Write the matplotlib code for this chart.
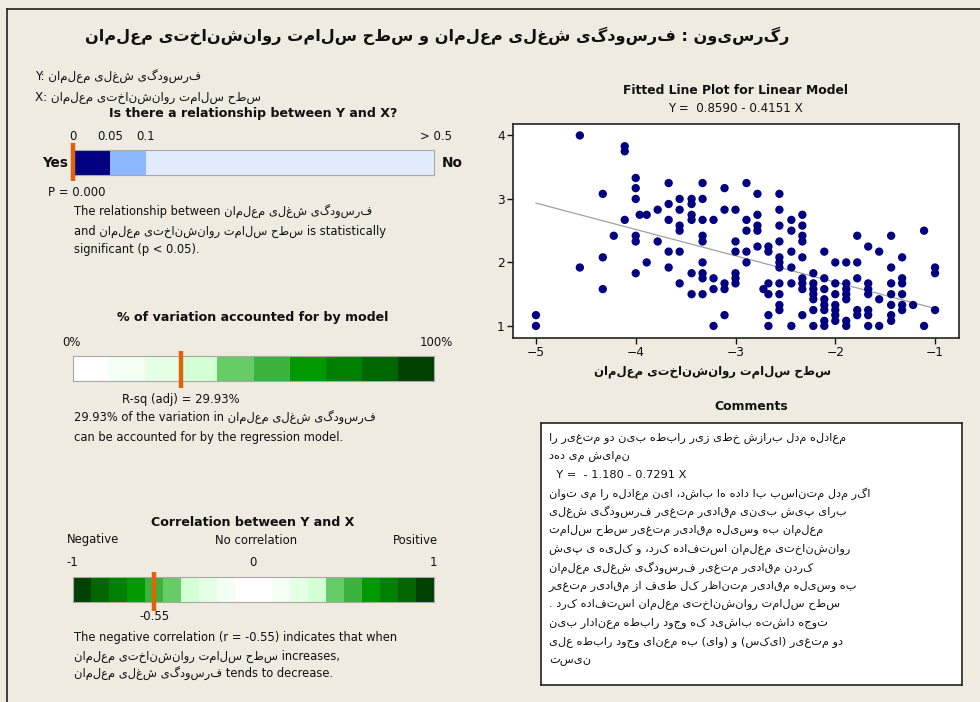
import matplotlib
matplotlib.use("Agg")
import matplotlib.pyplot as plt
from matplotlib.patches import Rectangle
from matplotlib.lines import Line2D

plt.rcParams['font.family'] = ['DejaVu Sans']

# ---------------- data ----------------
y_name = "فرسودگی شغلی معلمان"
x_name = "سطح سلامت روانشناختی معلمان"
title_fa = "رگرسیون : فرسودگی شغلی معلمان و سطح سلامت روانشناختی معلمان"

p_value = 0.000
p_tick_labels = ["0", "0.05", "0.1", "> 0.5"]
rsq_adj = 29.93
corr_r = -0.55
intercept = 0.8590
slope = -0.4151

x_cols = [-5.00, -4.56, -4.33, -4.22, -4.11, -4.00, -3.96, -3.89, -3.78, -3.67,
          -3.56, -3.44, -3.33, -3.22, -3.11, -3.00, -2.89, -2.78, -2.72, -2.67,
          -2.56, -2.44, -2.33, -2.22, -2.11, -2.00, -1.89, -1.78, -1.67, -1.56,
          -1.44, -1.33, -1.22, -1.11, -1.00]
y_by_col = [
    [1.17, 1.00],
    [4.00, 1.92],
    [3.08, 2.08, 1.58],
    [2.42],
    [3.83, 3.75, 2.67],
    [3.33, 3.17, 3.00, 2.42, 2.33, 1.83],
    [2.75],
    [2.75, 2.00],
    [2.83, 2.33],
    [3.25, 2.92, 2.67, 2.17, 1.92],
    [3.00, 2.83, 2.58, 2.50, 2.17, 1.67],
    [3.00, 2.92, 2.75, 2.67, 1.83, 1.50],
    [3.25, 3.00, 2.67, 2.42, 2.33, 2.00, 1.83, 1.75, 1.50],
    [2.67, 1.75, 1.58, 1.00],
    [3.17, 2.83, 1.67, 1.58, 1.17],
    [2.83, 2.33, 2.17, 1.83, 1.75, 1.67],
    [3.25, 2.67, 2.50, 2.17, 2.00],
    [3.08, 2.75, 2.58, 2.50, 2.25],
    [1.58],
    [2.25, 2.17, 1.67, 1.50, 1.17, 1.00],
    [3.08, 2.83, 2.58, 2.33, 2.08, 2.00, 1.92, 1.67, 1.50, 1.33, 1.25],
    [2.67, 2.50, 2.17, 1.92, 1.67, 1.00],
    [2.75, 2.58, 2.42, 2.33, 2.08, 1.75, 1.67, 1.58, 1.17],
    [1.83, 1.67, 1.58, 1.50, 1.42, 1.25, 1.00],
    [2.17, 1.75, 1.58, 1.42, 1.33, 1.25, 1.08, 1.00],
    [2.00, 1.67, 1.50, 1.33, 1.25, 1.17, 1.08],
    [2.00, 1.67, 1.58, 1.50, 1.42, 1.08, 1.00],
    [2.42, 2.00, 1.75, 1.25, 1.17],
    [2.25, 1.67, 1.58, 1.50, 1.25, 1.17, 1.00],
    [2.17, 1.42, 1.00],
    [2.42, 1.92, 1.67, 1.50, 1.33, 1.17, 1.08],
    [2.08, 1.75, 1.67, 1.50, 1.33, 1.25],
    [1.33],
    [2.50, 1.00],
    [1.92, 1.83, 1.25],
]

comment_lines = [
    ("fa", "معادله مدل برازش خطی زیر رابطه بین دو متغیر را"),
    ("fa", "نمایش می دهد"),
    ("en", "  Y =  - 1.180 - 0.7291 X"),
    ("fa", "اگر مدل متناسب با داده ها باشد، این معادله را می توان"),
    ("fa", "برای پیش بینی مقادیر متغیر فرسودگی شغلی"),
    ("fa", "معلمان به وسیله مقادیر متغیر سطح سلامت"),
    ("fa", "روانشناختی معلمان استفاده کرد، و کلیه ی پیش"),
    ("fa", "کردن مقادیر متغیر فرسودگی شغلی معلمان"),
    ("fa", "به وسیله مقادیر متناظر کل طیف از مقادیر متغیر"),
    ("fa", "سطح سلامت روانشناختی معلمان استفاده کرد ."),
    ("fa", "توجه داشته باشید که وجود رابطه معنادار بین"),
    ("fa", "دو متغیر (ایکس) و (وای) به معنای وجود رابطه علی"),
    ("fa", "نیست"),
]

rsq_colors = ["#ffffff", "#f3fff3", "#e4ffe4", "#d4ffd4", "#66cc66",
              "#3cb33c", "#009900", "#008000", "#006600", "#004000"]


def rtl(s):
    swap = {'(': ')', ')': '('}
    return ''.join(swap.get(c, c) for c in reversed(s))


# ---------------- figure ----------------
W, H = 980, 702
BG = "#efebe1"
ORANGE = "#e0620c"
fig = plt.figure(figsize=(W / 100, H / 100), dpi=100, facecolor=BG)


def fx(x):
    return x / W


def fy(y):
    return 1 - y / H


def T(x, y, s, **kw):
    kw.setdefault("va", "center")
    kw.setdefault("fontsize", 8.2)
    kw.setdefault("color", "#111111")
    fig.text(fx(x), fy(y), s, **kw)


def add_ax(x0, y0, x1, y1):
    return fig.add_axes([fx(x0), fy(y1), (x1 - x0) / W, (y1 - y0) / H])


# frame lines (top/left)
fig.add_artist(Line2D([fx(7), fx(7)], [fy(9), 0], color="#222222", lw=1.2))
fig.add_artist(Line2D([fx(7), 1], [fy(9), fy(9)], color="#222222", lw=1.2))

# title
T(437, 36, rtl(title_fa), ha="center", fontsize=11.6, fontweight="bold")

# Y / X names
T(35, 77, "Y: " + rtl(y_name), fontsize=8.6)
T(35, 97, "X: " + rtl(x_name), fontsize=8.6)

# ---------------- p-value bar ----------------
T(253, 113, "Is there a relationship between Y and X?", ha="center",
  fontsize=9.1, fontweight="bold")
p_pos = [0.0, 0.1025, 0.2022, 1.0]
p_colors = ["#000080", "#8cb8ff", "#e2ebfb"]
for lab, pos in zip(p_tick_labels, p_pos):
    if lab.startswith(">"):
        T(73 + pos * 361 + 18, 136, lab, ha="right", fontsize=8.4)
    else:
        T(73 + pos * 361, 136, lab, ha="center", fontsize=8.4)
axp = add_ax(73, 150, 434, 175)
for i, c in enumerate(p_colors):
    axp.add_patch(Rectangle((p_pos[i], 0), p_pos[i + 1] - p_pos[i], 1,
                            facecolor=c, edgecolor="none"))
axp.set_xlim(0, 1)
axp.set_ylim(0, 1)
axp.set_xticks([])
axp.set_yticks([])
for sp in axp.spines.values():
    sp.set_color("#a8a8a8")
axp.plot([p_value, p_value], [-0.25, 1.28], color=ORANGE, lw=3.2,
         clip_on=False, solid_capstyle="butt", zorder=5)
T(68, 163, "Yes", ha="right", fontsize=9.8, fontweight="bold")
T(442, 163, "No", ha="left", fontsize=9.8, fontweight="bold")
T(48, 192, "P = %.3f" % p_value, fontsize=8.4)
T(74, 212, "The relationship between " + rtl(y_name), fontsize=8.3)
T(74, 231, "and " + rtl(x_name) + " is statistically", fontsize=8.3)
T(74, 249, "significant (p < 0.05).", fontsize=8.3)

# ---------------- R-sq bar ----------------
T(253, 317, "% of variation accounted for by model", ha="center",
  fontsize=9.1, fontweight="bold")
T(62, 342, "0%", ha="left", fontsize=8.4)
T(453, 342, "100%", ha="right", fontsize=8.4)
axr = add_ax(73, 356, 434, 381)
for i, c in enumerate(rsq_colors):
    axr.add_patch(Rectangle((i * 10, 0), 10, 1, facecolor=c, edgecolor="none"))
axr.set_xlim(0, 100)
axr.set_ylim(0, 1)
axr.set_xticks([])
axr.set_yticks([])
for sp in axr.spines.values():
    sp.set_color("#a8a8a8")
axr.plot([rsq_adj, rsq_adj], [-0.3, 1.2], color=ORANGE, lw=3.2,
         clip_on=False, solid_capstyle="butt", zorder=5)
T(73 + rsq_adj / 100 * 361, 399, "R-sq (adj) = %.2f%%" % rsq_adj, ha="center",
  fontsize=8.4)
T(74, 418, "%.2f%% of the variation in " % rsq_adj + rtl(y_name), fontsize=8.3)
T(74, 437, "can be accounted for by the regression model.", fontsize=8.3)

# ---------------- correlation bar ----------------
T(253, 522, "Correlation between Y and X", ha="center",
  fontsize=9.1, fontweight="bold")
T(67, 540, "Negative", ha="left", fontsize=8.4)
T(256, 540, "No correlation", ha="center", fontsize=8.4)
T(438, 540, "Positive", ha="right", fontsize=8.4)
T(72, 563, "-1", ha="center", fontsize=8.4)
T(253, 563, "0", ha="center", fontsize=8.4)
T(433, 563, "1", ha="center", fontsize=8.4)
axc = add_ax(73, 577, 434, 602)
corr_colors = rsq_colors[::-1] + rsq_colors
for i, c in enumerate(corr_colors):
    axc.add_patch(Rectangle((-1 + i * 0.1, 0), 0.1, 1, facecolor=c, edgecolor="none"))
axc.set_xlim(-1, 1)
axc.set_ylim(0, 1)
axc.set_xticks([])
axc.set_yticks([])
for sp in axc.spines.values():
    sp.set_color("#a8a8a8")
axc.plot([corr_r, corr_r], [-0.35, 1.2], color=ORANGE, lw=3.2,
         clip_on=False, solid_capstyle="butt", zorder=5)
T(73 + (corr_r + 1) / 2 * 361, 617, "%.2f" % corr_r, ha="center", fontsize=8.4)
T(74, 637, "The negative correlation (r = %.2f) indicates that when" % corr_r,
  fontsize=8.3)
T(74, 656, rtl(x_name) + " increases,", fontsize=8.3)
T(74, 674, rtl(y_name) + " tends to decrease.", fontsize=8.3)

# ---------------- scatter ----------------
T(735, 90, "Fitted Line Plot for Linear Model", ha="center",
  fontsize=8.9, fontweight="bold")
T(735, 108, "Y =  %.4f - %.4f X" % (intercept, -slope), ha="center", fontsize=8.6)
axs = add_ax(513, 124, 959, 338)
axs.set_facecolor("white")
xs, ys = [], []
for xv, col in zip(x_cols, y_by_col):
    for yv in col:
        xs.append(xv)
        ys.append(yv)
axs.scatter(xs, ys, s=36, color="#000080", edgecolors="none", zorder=3)
xl = [min(x_cols), max(x_cols)]
axs.plot(xl, [intercept + slope * v for v in xl], color="#a0a0a0", lw=0.9, zorder=2)
axs.set_xlim(-5.23, -0.76)
axs.set_ylim(0.81, 4.18)
axs.set_xticks([-5, -4, -3, -2, -1])
axs.set_yticks([1, 2, 3, 4])
axs.tick_params(direction="out", length=4, width=1, labelsize=8.8, pad=2,
                colors="#111111")
for sp in axs.spines.values():
    sp.set_color("#222222")
    sp.set_linewidth(1.2)
T(713, 372, rtl(x_name), ha="center", fontsize=8.4, fontweight="bold")

# ---------------- comments ----------------
T(751, 407, "Comments", ha="center", fontsize=8.9, fontweight="bold")
axb = add_ax(541, 423, 962, 685)
axb.set_facecolor("white")
axb.set_xticks([])
axb.set_yticks([])
for sp in axb.spines.values():
    sp.set_color("#222222")
    sp.set_linewidth(1.2)
for i, (kind, line) in enumerate(comment_lines):
    s = rtl(line) if kind == "fa" else line
    T(549, 438 + i * 18.55, s, ha="left", fontsize=8.2)

fig.savefig("out.png", dpi=100, facecolor=BG)
